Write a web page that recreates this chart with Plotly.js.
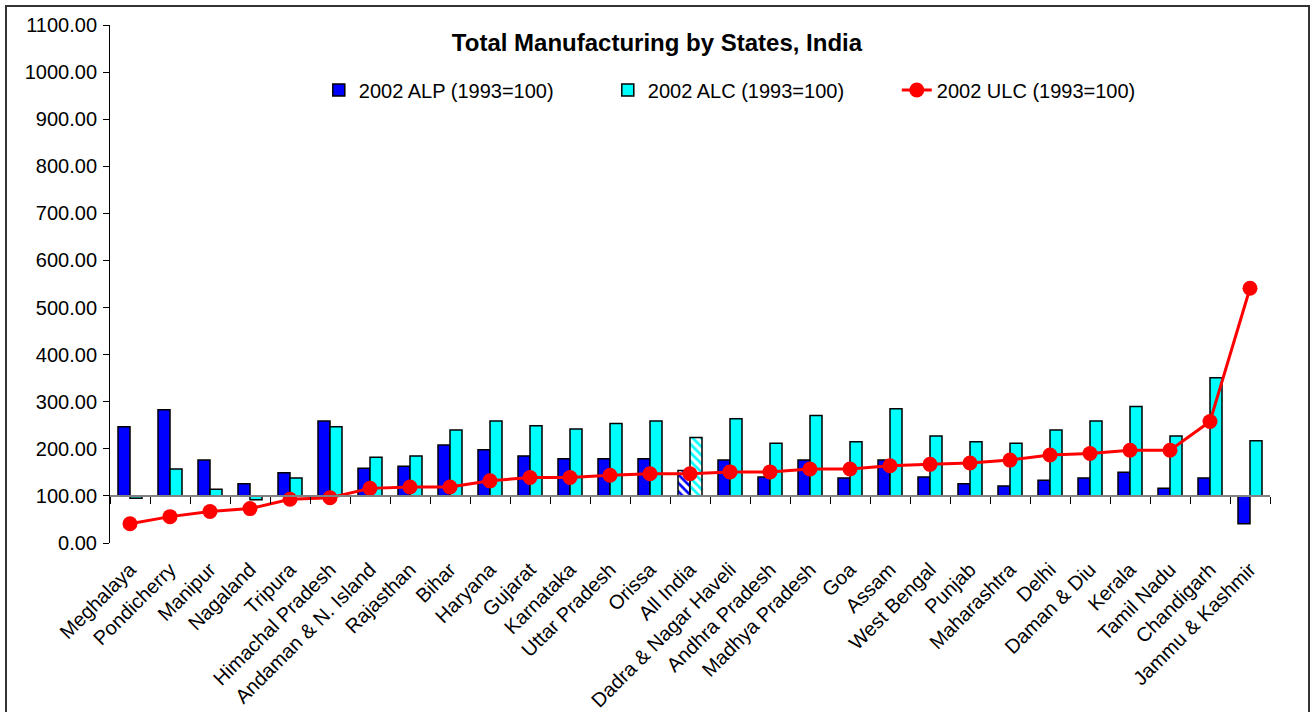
<!DOCTYPE html>
<html>
<head>
<meta charset="utf-8">
<script src="https://cdn.plot.ly/plotly-3.0.1.min.js"></script>
<style>
  html, body { margin: 0; padding: 0; background: #fff; }
  #wrap { position: relative; width: 1314px; height: 712px; overflow: hidden; }
  #chart { width: 1314px; height: 712px; }
  #frame { position: absolute; left: 5px; top: 5px; width: 1301px; height: 800px;
           border: 2px solid #333; pointer-events: none; }
</style>
</head>
<body>
<div id="wrap">
  <div id="chart"></div>
  <div id="frame"></div>
</div>
<script>
const states = ['Meghalaya','Pondicherry','Manipur','Nagaland','Tripura','Himachal Pradesh',
  'Andaman & N. Island','Rajasthan','Bihar','Haryana','Gujarat','Karnataka','Uttar Pradesh',
  'Orissa','All India','Dadra & Nagar Haveli','Andhra Pradesh','Madhya Pradesh','Goa','Assam',
  'West Bengal','Punjab','Maharashtra','Delhi','Daman & Diu','Kerala','Tamil Nadu','Chandigarh',
  'Jammu & Kashmir'];
const alp2002 = [247,283,176,126,149,259,159,163,208,198,185,179,179,179,154,176,140,176,138,176,140,126,121,133,138,150,116,138,41];
const alc2002 = [95,157,114,92,138,247,182,185,240,259,249,242,254,259,224,264,212,271,215,285,227,215,212,240,259,290,227,351,217];
const ulc2002 = [41,56,67,73,93,96,116,119,119,132,139,139,144,147,147,151,151,157,157,164,167,170,176,187,190,197,197,258,541];
const baseIndex = 100;
const highlighted = 'All India';
const yTicks = [0,100,200,300,400,500,600,700,800,900,1000,1100];

const FONT = 'Liberation Sans, Arial, sans-serif';
const hatch = states.map(s => s === highlighted ? '\\' : '');
const n = states.length;

const traces = [
  {
    type: 'bar', name: '2002 ALP (1993=100)', x: states,
    y: alp2002.map(v => v - baseIndex), base: baseIndex,
    marker: { color: '#0000FF', line: { color: '#000', width: 1.5 },
              pattern: { shape: hatch, size: 6, solidity: 0.45 } },
    xaxis: 'x', yaxis: 'y'
  },
  {
    type: 'bar', name: '2002 ALC (1993=100)', x: states,
    y: alc2002.map(v => v - baseIndex), base: baseIndex,
    marker: { color: '#00FFFF', line: { color: '#000', width: 1.5 },
              pattern: { shape: hatch, size: 6, solidity: 0.45 } },
    xaxis: 'x', yaxis: 'y'
  },
  {
    type: 'scatter', mode: 'lines+markers', name: '2002 ULC (1993=100)', x: states, y: ulc2002,
    line: { color: '#FF0000', width: 3 },
    marker: { color: '#FF0000', size: 15 },
    xaxis: 'x2', yaxis: 'y'
  }
];

const layout = {
  width: 1314, height: 712,
  margin: { l: 110, r: 44, t: 25, b: 169 },
  paper_bgcolor: '#fff', plot_bgcolor: '#fff',
  font: { family: FONT, size: 20, color: '#000' },
  title: { text: '<b>Total Manufacturing by States, India</b>', font: { family: FONT, size: 24, color: '#000' },
           x: 0.5, xref: 'container', y: 1 - 43/712, yref: 'container', yanchor: 'middle' },
  barmode: 'group', bargap: 0.4, bargroupgap: 0,
  showlegend: true,
  legend: { orientation: 'h', x: 0.180, xanchor: 'left', y: 0.8745, yanchor: 'middle',
            font: { family: FONT, size: 20 }, entrywidth: 244, entrywidthmode: 'pixels',
            bgcolor: 'rgba(0,0,0,0)' },
  xaxis: {
    type: 'category', range: [-0.5, n - 0.5], showline: false, ticks: '', showgrid: false,
    tickangle: -45, tickfont: { family: FONT, size: 20 }, automargin: false, fixedrange: true,
    ticklabelstandoff: 10
  },
  xaxis2: {
    type: 'category', overlaying: 'x', anchor: 'free', position: baseIndex / 1100,
    range: [-0.5, n - 0.5], showline: true, linecolor: '#808080', linewidth: 2,
    ticks: 'outside', tickson: 'boundaries', ticklen: 7, tickcolor: '#000', tickwidth: 1,
    showticklabels: false, showgrid: false, automargin: false
  },
  yaxis: {
    range: [0, 1100], tickvals: yTicks, tickformat: '.2f', showline: true, linecolor: '#000',
    linewidth: 1, ticks: 'outside', ticklen: 6, tickcolor: '#000', showgrid: false,
    zeroline: false, tickfont: { family: FONT, size: 20 }, automargin: false,
    ticklabelstandoff: 2
  },
  yaxis2: {
    overlaying: 'y', side: 'left', range: [0, 1100], tickvals: yTicks, showticklabels: false,
    ticks: 'inside', ticklen: 6, tickcolor: '#000', showline: false, showgrid: false, zeroline: false
  }
};

Plotly.newPlot('chart', traces, layout, { staticPlot: true, displayModeBar: false });
</script>
</body>
</html>
